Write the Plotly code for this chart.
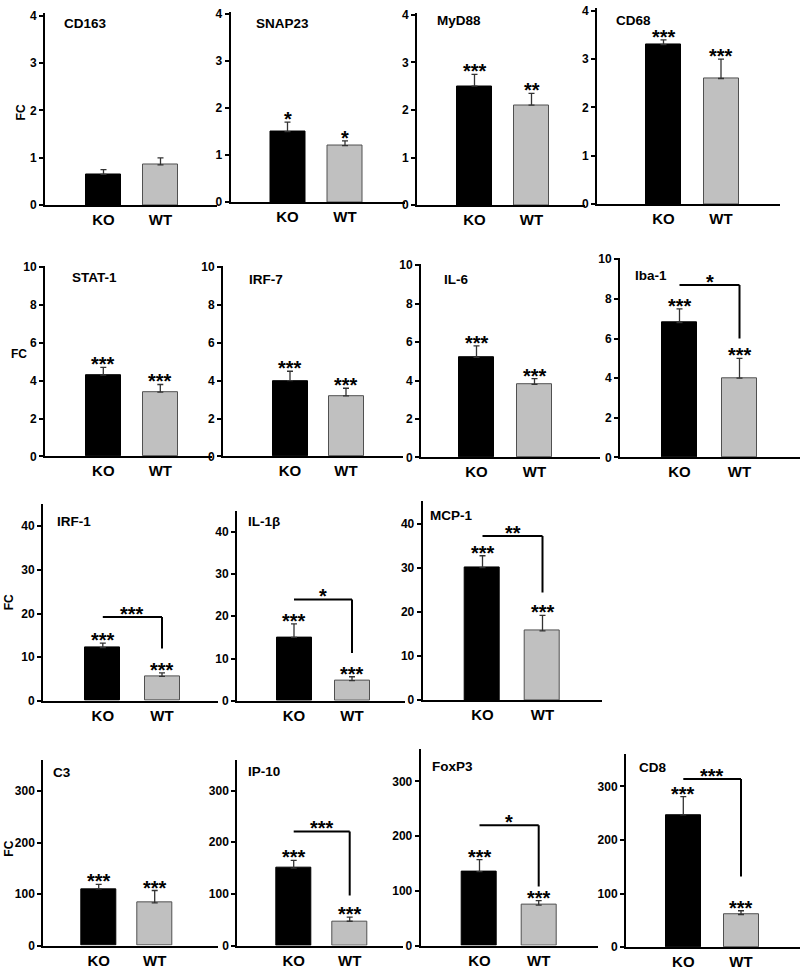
import plotly.graph_objects as go

# ---------------- data ----------------
groups = ["KO", "WT"]
genes = ["CD163", "SNAP23", "MyD88", "CD68",
         "STAT-1", "IRF-7", "IL-6", "Iba-1",
         "IRF-1", "IL-1β", "MCP-1",
         "C3", "IP-10", "FoxP3", "CD8"]
ko_fc = [0.65, 1.5, 2.5, 3.3,
         4.3, 4.0, 5.2, 6.8,
         12.2, 15.0, 30.0,
         110, 150, 135, 247]
ko_err = [0.1, 0.2, 0.25, 0.1,
          0.4, 0.5, 0.6, 0.7,
          1.0, 3.2, 2.7,
          9, 15, 22, 34]
wt_fc = [0.85, 1.2, 2.1, 2.6,
         3.4, 3.2, 3.8, 4.0,
         5.6, 4.8, 15.7,
         83, 47, 74, 61]
wt_err = [0.15, 0.1, 0.25, 0.4,
          0.4, 0.4, 0.3, 1.0,
          0.8, 0.9, 3.5,
          24, 8, 8, 7]
ko_sig = ["", "*", "***", "***",
          "***", "***", "***", "***",
          "***", "***", "***",
          "***", "***", "***", "***"]
wt_sig = ["", "*", "**", "***",
          "***", "***", "***", "***",
          "***", "***", "***",
          "***", "***", "***", "***"]
# KO vs WT comparison bracket: top level, drop level, label
cmp_top = [None, None, None, None,
           None, None, None, 8.7,
           19.2, 24.0, 37.2,
           None, 221, 220, 314]
cmp_bottom = [None, None, None, None,
              None, None, None, 6.0,
              12.0, 11.3, 24.4,
              None, 97, 108, 132]
cmp_sig = ["", "", "", "",
           "", "", "", "*",
           "***", "*", "**",
           "", "***", "*", "***"]
y_max = [4.05] * 4 + [10.05] * 4 + [45] * 3 + [360] * 4
y_dtick = [1] * 4 + [2] * 4 + [10] * 3 + [100] * 4

# ---------------- layout geometry (pixels) ----------------
W, H = 800, 970
# axis_x, axis_end, zero_y, top_y, ko_x, wt_x
panel_px = [
    (45, 217, 202, 7.6, 103.5, 160.5),
    (230.5, 405, 199, 5.6, 287.5, 345),
    (417, 585, 202, 6.6, 474.5, 531.5),
    (597, 780, 201, 2.5, 663.5, 721),
    (45, 212, 457, 264, 103.3, 160.3),
    (223, 403, 457, 264, 290, 346),
    (421, 600, 458, 262, 476.5, 534.5),
    (620, 800, 458, 256, 679.5, 739.5),
    (43, 218, 705, 505.7, 102.8, 162),
    (237, 405, 705, 512, 294, 352),
    (422.7, 602, 704.3, 502.7, 482.5, 542.5),
    (43.3, 218, 953.3, 765.4, 98.7, 154.7),
    (237.3, 403, 953.3, 764.7, 293.7, 349.7),
    (420.7, 598, 953.3, 753.5, 479.5, 538.7),
    (626, 800, 955, 759.2, 683.3, 741),
]
title_dx = [17, 23, 18, 17, 25, 24, 21, 13, 12, 9, 5, 8, 9, 9, 11]
title_y = [18, 18, 15, 15, 275, 277, 277, 273, 523, 523, 517, 778, 777, 772, 773]
fc_labels = [(21, 108, -90), (19, 353, 0), (9, 605, -90), (9, 855, -90)]
BAR_PX = 35

FONT = "Arial, Liberation Sans, sans-serif"

fig = go.Figure()
annotations = []
shapes = []
layout_axes = {}

for i, g in enumerate(genes):
    n = i + 1
    ax, end, zy, ty, kx, wx = panel_px[i]
    s = wx - kx
    xs = "x" if n == 1 else f"x{n}"
    ys = "y" if n == 1 else f"y{n}"
    xk = "xaxis" if n == 1 else f"xaxis{n}"
    yk = "yaxis" if n == 1 else f"yaxis{n}"

    fig.add_trace(go.Bar(
        x=[0, 1], y=[ko_fc[i], wt_fc[i]],
        xaxis=xs, yaxis=ys,
        width=BAR_PX / s,
        marker=dict(color=["black", "#c0c0c0"],
                    line=dict(color=["black", "#505050"], width=1)),
        error_y=dict(type="data", symmetric=False,
                     array=[ko_err[i], wt_err[i]], arrayminus=[0, 0],
                     color="#333333", thickness=1.3, width=3),
        showlegend=False, hoverinfo="skip",
    ))

    layout_axes[xk] = dict(
        domain=[ax / W, end / W],
        range=[(ax - kx) / s, (end - kx) / s],
        anchor=ys, showline=True, linewidth=2, linecolor="black",
        tickvals=[0, 1], ticktext=groups, ticks="",
        tickfont=dict(family=FONT, size=15, color="black", weight="bold"),
        showgrid=False, zeroline=False, fixedrange=True,
    )
    layout_axes[yk] = dict(
        domain=[1 - zy / H, 1 - ty / H],
        range=[0, y_max[i]], dtick=y_dtick[i], tick0=0,
        anchor=xs, showline=True, linewidth=2, linecolor="black",
        ticks="outside", ticklen=4, tickwidth=1.5, tickcolor="black",
        tickfont=dict(family=FONT, size=12, color="black", weight="bold"),
        showgrid=False, zeroline=False, fixedrange=True,
    )

    # significance stars over bars
    for xv, val, err, sig in [(0, ko_fc[i], ko_err[i], ko_sig[i]),
                              (1, wt_fc[i], wt_err[i], wt_sig[i])]:
        if sig:
            annotations.append(dict(
                x=xv, y=val + err, xref=xs, yref=ys, text=sig,
                showarrow=False, yanchor="middle", yshift=3,
                font=dict(family=FONT, size=20, color="black", weight="bold"),
            ))

    # comparison bracket
    if cmp_top[i] is not None:
        shapes.append(dict(type="line", xref=xs, yref=ys,
                           x0=0, x1=1, y0=cmp_top[i], y1=cmp_top[i],
                           line=dict(color="black", width=2)))
        shapes.append(dict(type="line", xref=xs, yref=ys,
                           x0=1, x1=1, y0=cmp_top[i], y1=cmp_bottom[i],
                           line=dict(color="black", width=2)))
        annotations.append(dict(
            x=0.5, y=cmp_top[i], xref=xs, yref=ys, text=cmp_sig[i],
            showarrow=False, yanchor="middle", yshift=3,
            font=dict(family=FONT, size=20, color="black", weight="bold"),
        ))

    # gene title
    annotations.append(dict(
        x=(ax + title_dx[i]) / W, y=1 - title_y[i] / H,
        xref="paper", yref="paper", text=g, showarrow=False,
        xanchor="left", yanchor="middle",
        font=dict(family=FONT, size=13.5, color="black", weight="bold"),
    ))

for fx, fy, ang in fc_labels:
    annotations.append(dict(
        x=fx / W, y=1 - fy / H, xref="paper", yref="paper", text="FC",
        showarrow=False, textangle=ang, xanchor="center", yanchor="middle",
        font=dict(family=FONT, size=12, color="black", weight="bold"),
    ))

fig.update_layout(
    width=W, height=H,
    margin=dict(l=0, r=0, t=0, b=0),
    paper_bgcolor="white", plot_bgcolor="white",
    annotations=annotations, shapes=shapes,
    bargap=0, **layout_axes,
)

fig.write_html("out.html", config={"displayModeBar": False},
               post_script="document.body.style.margin='0';")
